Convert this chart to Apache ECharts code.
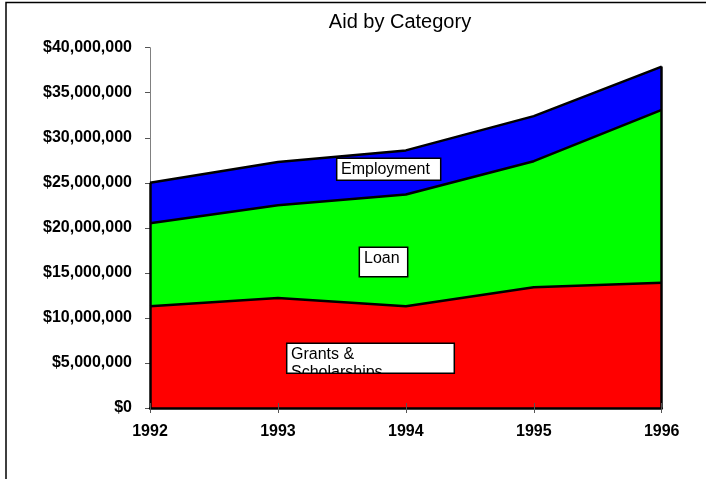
<!DOCTYPE html>
<html><head><meta charset="utf-8">
<script src="https://cdn.jsdelivr.net/npm/echarts@6/dist/echarts.min.js"></script>
<style>html,body{margin:0;padding:0;background:#fff}#c{width:706px;height:479px}</style>
</head><body><div id="c"></div>
<script>
const years = ['1992', '1993', '1994', '1995', '1996'];
const grants = [11300000, 12200000, 11300000, 13400000, 13900000];
const loan = [9200000, 10300000, 12400000, 14000000, 19200000];
const employment = [4500000, 4800000, 4900000, 5000000, 4800000];
const seriesNames = ['Grants & Scholarships', 'Loan', 'Employment'];
const titleText = 'Aid by Category';

const totals = years.map((_, i) => grants[i] + loan[i] + employment[i]);
const FONT = '"Liberation Sans", Arial, Helvetica, sans-serif';

const base = {
  type: 'line', stack: 'total', symbol: 'none', showSymbol: false,
  lineStyle: { color: '#000', width: 2.5 }, animation: false, silent: true
};

const chart = echarts.init(document.getElementById('c'));
chart.setOption({
  backgroundColor: '#fff',
  animation: false,
  title: {
    text: titleText, left: 400, top: 12, textAlign: 'center', padding: 0,
    textStyle: { fontFamily: FONT, fontSize: 20, fontWeight: 'normal', color: '#000' }
  },
  grid: { left: 150, right: 44.3, top: 47.7, bottom: 71, containLabel: false },
  xAxis: [{
    type: 'category', data: years, boundaryGap: false, z: 10,
    axisLine: { lineStyle: { color: '#000', width: 2.5 } },
    axisTick: { show: true, length: 5, lineStyle: { color: '#555', width: 1 } },
    axisLabel: { fontFamily: FONT, fontSize: 16, fontWeight: 'bold', color: '#000', margin: 16 },
    splitLine: { show: false }
  }, {
    type: 'category', data: years, boundaryGap: false, z: 10, position: 'bottom', offset: 0,
    axisLine: { show: false },
    axisTick: { show: true, inside: true, length: 5, lineStyle: { color: '#555', width: 1 } },
    axisLabel: { show: false },
    splitLine: { show: false }
  }],
  yAxis: {
    type: 'value', min: 0, max: 40000000, interval: 5000000,
    axisLine: { show: true, lineStyle: { color: '#808080', width: 1 } },
    axisTick: { show: true, length: 5, lineStyle: { color: '#555', width: 1 } },
    axisLabel: {
      fontFamily: FONT, fontSize: 16, fontWeight: 'bold', color: '#000', margin: 18,
      formatter: v => '$' + v.toLocaleString('en-US')
    },
    splitLine: { show: false }
  },
  series: [
    Object.assign({}, base, { name: seriesNames[0], data: grants, z: 4,
      areaStyle: { color: '#ff0000', opacity: 1 } }),
    Object.assign({}, base, { name: seriesNames[1], data: loan, z: 3,
      areaStyle: { color: '#00ff00', opacity: 1 } }),
    Object.assign({}, base, { name: seriesNames[2], data: employment, z: 2,
      areaStyle: { color: '#0000ff', opacity: 1 },
      markLine: {
        silent: true, symbol: ['none', 'none'], animation: false, z: 6,
        label: { show: false },
        lineStyle: { color: '#000', width: 2.5, type: 'solid' },
        data: [
          [{ coord: [years[0], 0] }, { coord: [years[0], totals[0]] }],
          [{ coord: [years[years.length - 1], 0] }, { coord: [years[years.length - 1], totals[totals.length - 1]] }]
        ]
      }
    })
  ],
  graphic: [
    { type: 'rect', z: 100, shape: { x: 6, y: 2.5, width: 800, height: 600 },
      style: { fill: 'none', stroke: '#000', lineWidth: 1.5 } },
    // Employment label
    { type: 'rect', z: 100, shape: { x: 336.7, y: 158.3, width: 104, height: 22 },
      style: { fill: '#fff', stroke: '#000', lineWidth: 1.5 } },
    { type: 'text', z: 101, x: 341, y: 169.2,
      style: { text: seriesNames[2], fontFamily: FONT, fontSize: 16, fill: '#000', verticalAlign: 'middle', align: 'left' } },
    // Loan label
    { type: 'rect', z: 100, shape: { x: 359.3, y: 247.3, width: 48.4, height: 29.4 },
      style: { fill: '#fff', stroke: '#000', lineWidth: 1.5 } },
    { type: 'text', z: 101, x: 364, y: 258.7,
      style: { text: seriesNames[1], fontFamily: FONT, fontSize: 16, fill: '#000', verticalAlign: 'middle', align: 'left' } },
    // Grants label (text clipped by its box)
    { type: 'rect', z: 100, shape: { x: 286.7, y: 343.3, width: 167.6, height: 30 },
      style: { fill: '#fff', stroke: null } },
    { type: 'text', z: 101, x: 291, y: 345.2,
      style: { text: 'Grants &\nScholarships', fontFamily: FONT, fontSize: 16, lineHeight: 18, fill: '#000', verticalAlign: 'top', align: 'left' } },
    { type: 'rect', z: 102, shape: { x: 284, y: 373.6, width: 173, height: 20 },
      style: { fill: '#ff0000', stroke: null } },
    { type: 'rect', z: 103, shape: { x: 286.7, y: 343.3, width: 167.6, height: 30 },
      style: { fill: 'none', stroke: '#000', lineWidth: 1.5 } }
  ]
});
</script>
</body></html>
